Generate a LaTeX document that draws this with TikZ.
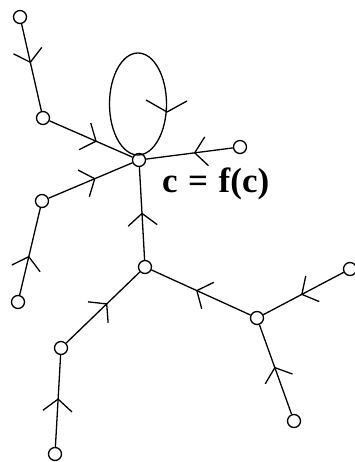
\documentclass[tikz,border=0pt]{standalone}
\usepackage{fontspec}
\newfontfamily\labfont{Liberation Serif}
\usetikzlibrary{arrows.meta,decorations.markings}
\tikzset{
  vtx/.style={circle,draw,line width=1.3pt,minimum size=13pt,inner sep=0pt,fill=white},
  edge/.style={line width=1.3pt},
  mid/.style={postaction={decorate,decoration={markings,
     mark=at position #1 with {\arrow[line width=1.3pt]{Straight Barb[length=12pt,width=29pt]}}}}}
}
\begin{document}
\begin{tikzpicture}[x=1pt,y=-1pt]
\useasboundingbox (0,0) rectangle (355,462);
\node[vtx] (A) at (20,17) {};
\node[vtx] (B) at (43,118) {};
\node[vtx] (C) at (139,160) {};
\node[vtx] (D) at (240,147) {};
\node[vtx] (E) at (42,201) {};
\node[vtx] (F) at (18,302) {};
\node[vtx] (G) at (145,267) {};
\node[vtx] (H) at (350,269) {};
\node[vtx] (I) at (257,318) {};
\node[vtx] (J) at (61,348) {};
\node[vtx] (K) at (294,421) {};
\node[vtx] (L) at (55,454) {};
% loop
\draw[edge] (138,104) ellipse [x radius=28.5, y radius=51];
\coordinate (lt) at (167,112);
\draw[edge] (146,100) -- (lt) -- (187,101);
% edges
\draw[edge,mid=0.45] (A) -- (B);
\draw[edge,mid=0.57] (B) -- (C);
\draw[edge,mid=0.56] (E) -- (C);
\draw[edge,mid=0.45] (D) -- (C);
\draw[edge,mid=0.51] (G) -- (C);
\draw[edge,mid=0.45] (F) -- (E);
\draw[edge,mid=0.56] (J) -- (G);
\draw[edge,mid=0.53] (L) -- (J);
\draw[edge,mid=0.55] (I) -- (G);
\draw[edge,mid=0.53] (H) -- (I);
\draw[edge,mid=0.53] (K) -- (I);
\node[anchor=base west,inner sep=0pt,font=\labfont\bfseries\fontsize{35}{35}\selectfont] (lab) at (162,193) {c\hspace{0.3em}=\hspace{0.3em}f(c)};
\end{tikzpicture}
\end{document}
